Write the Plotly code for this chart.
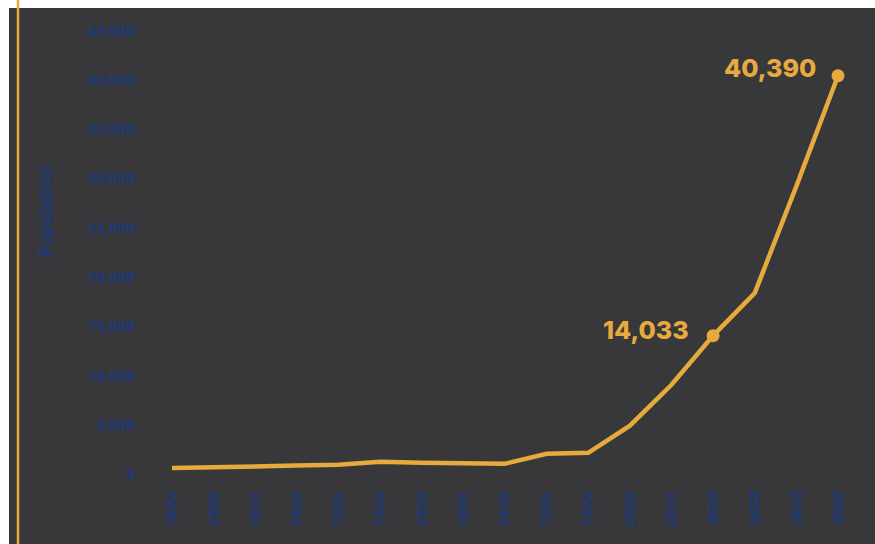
import plotly.graph_objects as go

years = [1890, 1900, 1910, 1920, 1930, 1940, 1950, 1960, 1970, 1980,
         1990, 2000, 2010, 2020, 2030, 2040, 2050]
population = [600, 650, 750, 850, 950, 1250, 1150, 1050, 1050, 2050,
              2150, 4900, 9050, 14033, 18350, 29200, 40390]
highlight_years = [2020, 2050]
highlight_values = [14033, 40390]
highlight_labels = ["14,033", "40,390"]
ytick_vals = [0, 5000, 10000, 15000, 20000, 25000, 30000, 35000, 40000, 45000]
ytick_text = ["0", "5,000", "10,000", "15,000", "20,000", "25,000",
              "30,000", "35,000", "40,000", "45,000"]
years_up = [1890, 1900, 1910, 1920, 1930, 1940, 1950, 1960, 1970, 1980, 1990, 2000, 2010]
years_down = [2020, 2030, 2040, 2050]

BG = "#38383b"
GOLD = "#e6ab3c"
BLUE = "#1e3a78"
W, H = 875, 544
ML, MR, MT, MB = 150, 15, 8, 70
PW, PH = W - ML - MR, H - MT - MB

def px_x(p):
    return (p - ML) / PW

def px_y(p):
    return (H - MB - p) / PH

fig = go.Figure()
fig.add_trace(go.Scatter(x=years, y=population, mode="lines",
                         line=dict(color=GOLD, width=4.5), hoverinfo="skip"))
fig.add_trace(go.Scatter(x=highlight_years, y=highlight_values, mode="markers",
                         marker=dict(color=GOLD, size=13), hoverinfo="skip"))
fig.add_trace(go.Scatter(x=years, y=population, mode="lines", xaxis="x2",
                         line=dict(color="rgba(0,0,0,0)", width=0), hoverinfo="skip",
                         showlegend=False))

shifts = [(-22, 6), (-20, 8)]
for xv, yv, t, (xs, ys) in zip(highlight_years, highlight_values, highlight_labels, shifts):
    fig.add_annotation(x=xv, y=yv, text=t, showarrow=False, xanchor="right",
                       yanchor="middle", xshift=xs, yshift=ys,
                       font=dict(family="Inter", size=25, color=GOLD, weight=800))

fig.add_annotation(xref="paper", yref="paper", x=px_x(46), y=px_y(212),
                   text="Population", textangle=-90, showarrow=False,
                   xanchor="center", yanchor="middle",
                   font=dict(family="Open Sans", size=17, color=BLUE, weight=700))

shapes = [
    dict(type="rect", xref="paper", yref="paper", x0=px_x(0), x1=px_x(9),
         y0=px_y(H), y1=px_y(0), fillcolor="white", line=dict(width=0), layer="below"),
    dict(type="rect", xref="paper", yref="paper", x0=px_x(0), x1=px_x(W),
         y0=px_y(8), y1=px_y(0), fillcolor="white", line=dict(width=0), layer="below"),
    dict(type="line", xref="paper", yref="paper", x0=px_x(18), x1=px_x(18),
         y0=px_y(H), y1=px_y(0), line=dict(color=GOLD, width=2.5)),
]

x0r = 1890 - (172 - ML) / 4.1625
x1r = 2050 + (ML + PW - 838) / 4.1625
xr = [x0r, x1r]
tickfont = dict(family="Open Sans", size=15, color=BLUE, weight=700)

fig.update_layout(
    width=W, height=H,
    margin=dict(l=ML, r=MR, t=MT, b=MB, pad=0),
    paper_bgcolor=BG, plot_bgcolor=BG,
    showlegend=False,
    shapes=shapes,
    xaxis=dict(range=xr, tickmode="array", tickvals=years_up,
               ticktext=[str(y) for y in years_up], tickangle=-90,
               showgrid=False, zeroline=False, showline=False,
               tickfont=tickfont, ticks="", ticklabelstandoff=15),
    xaxis2=dict(range=xr, overlaying="x", anchor="y", side="bottom",
                tickmode="array", tickvals=years_down,
                ticktext=[str(y) for y in years_down], tickangle=90,
                showgrid=False, zeroline=False, showline=False,
                tickfont=tickfont, ticks="", ticklabelstandoff=15),
    yaxis=dict(range=[0, PH / 9.86 * 1000], tickmode="array", tickvals=ytick_vals,
               ticktext=ytick_text, showgrid=False, zeroline=False, showline=False,
               tickfont=tickfont, ticks="", ticklabelstandoff=14),
)

fig.write_html("out.html")
